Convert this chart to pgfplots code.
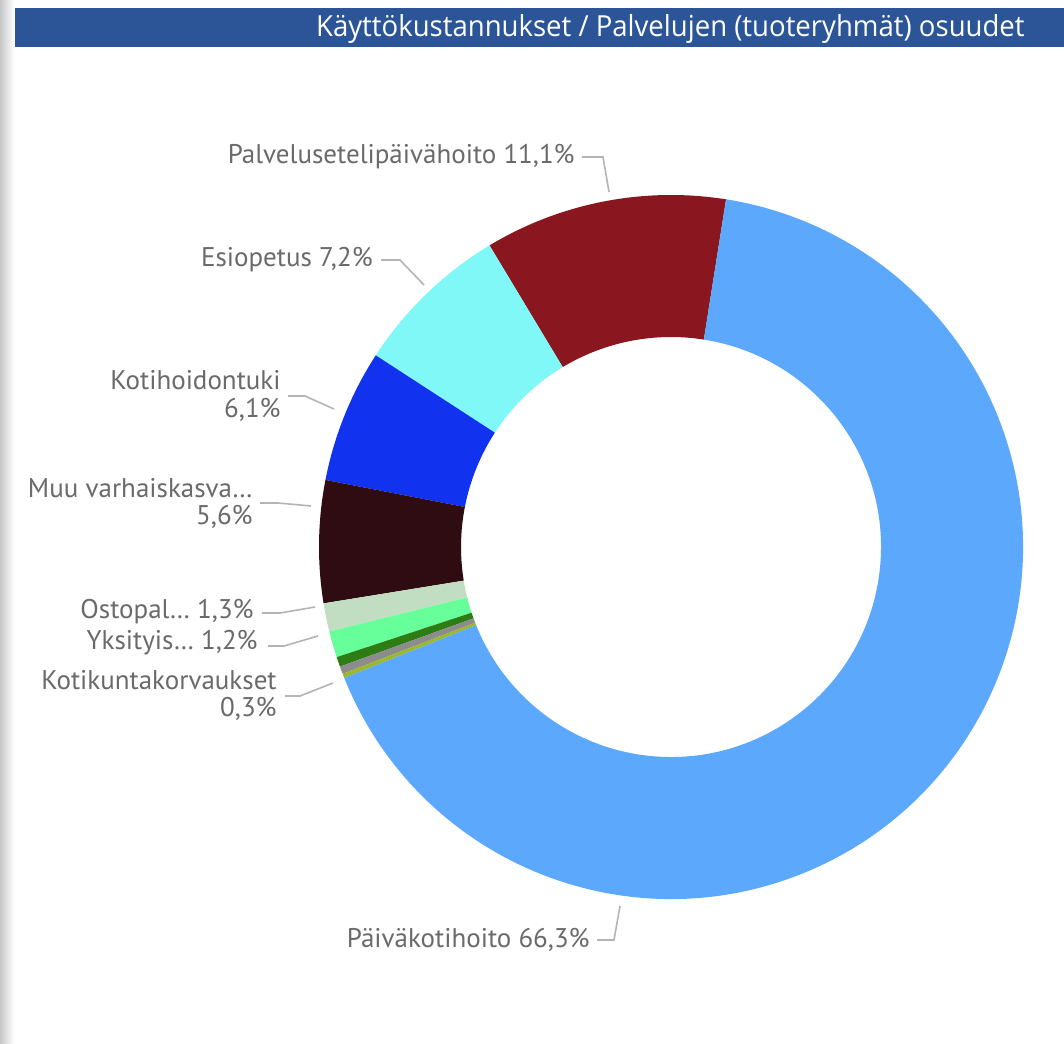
\documentclass[border=0pt]{standalone}
\usepackage{pgfplots}
\usepackage{pgfplotstable}
\pgfplotsset{compat=1.18}
\usepackage{fontspec}
\setmainfont{PT Sans}
\newfontfamily\titlefont[FakeStretch=0.95]{Open Sans}
\definecolor{cPaiv}{HTML}{5CA8FD}
\definecolor{cPalv}{HTML}{8A1620}
\definecolor{cEsi}{HTML}{80F8F8}
\definecolor{cKoti}{HTML}{1133F0}
\definecolor{cMuu}{HTML}{2E0C12}
\definecolor{cOsto}{HTML}{C2DEC2}
\definecolor{cYks}{HTML}{66FF99}
\definecolor{cDg}{HTML}{2E7D14}
\definecolor{cGray}{HTML}{8C8C8C}
\definecolor{cYg}{HTML}{9CB82C}
\definecolor{cTitle}{HTML}{2B5597}
\definecolor{cLab}{HTML}{6A6A6A}
\definecolor{cLead}{HTML}{B4B4B4}
% slices counterclockwise starting at 81 degrees
\pgfplotstableread{
name value color
Palvelusetelipaivahoito 11.1 cPalv
Esiopetus 7.2 cEsi
Kotihoidontuki 6.1 cKoti
Muu 5.6 cMuu
Ostopal 1.3 cOsto
Yksityis 1.2 cYks
Muu2 0.45 cDg
Kotikuntakorvaukset 0.35 cGray
Muu3 0.2 cYg
Paivakotihoito 66.3 cPaiv
}\slices
\begin{document}
\begin{tikzpicture}
\begin{axis}[
  x=0.5pt, y=0.5pt,
  xmin=0, xmax=1064, ymin=0, ymax=1043,
  y dir=reverse,
  hide axis, clip=false,
]
\fill[white] (axis cs:0,0) rectangle (axis cs:1064,1043);
\shade[left color=black!22, right color=white] (axis cs:0,0) rectangle (axis cs:14,1043);
\fill[cTitle] (axis cs:15,8) rectangle (axis cs:1064,47);
\node[anchor=east, inner sep=0, text=white, font=\titlefont\fontsize{14.5pt}{16pt}\selectfont] at (axis cs:1025,29) {Käyttökustannukset / Palvelujen (tuoteryhmät) osuudet};
\pgfplotstablegetrowsof{\slices}
\pgfmathtruncatemacro\nrows{\pgfplotsretval-1}
\def\total{0}
\pgfplotsforeachungrouped \i in {0,...,\nrows}{%
  \pgfplotstablegetelem{\i}{value}\of\slices
  \pgfmathsetmacro\total{\total+\pgfplotsretval}%
}
\def\acc{81}
\pgfplotsforeachungrouped \i in {0,...,\nrows}{%
  \pgfplotstablegetelem{\i}{value}\of\slices \let\v\pgfplotsretval
  \pgfplotstablegetelem{\i}{color}\of\slices \let\c\pgfplotsretval
  \pgfmathsetmacro\a{\acc}%
  \pgfmathsetmacro\b{\acc+\v/\total*360}%
  \pgfmathsetmacro\xs{671+352*cos(\a)}%
  \pgfmathsetmacro\ys{547-352*sin(\a)}%
  \pgfmathsetmacro\xe{671+210*cos(\b)}%
  \pgfmathsetmacro\ye{547-210*sin(\b)}%
  \edef\cmd{\noexpand\fill[\c] (axis cs:\xs,\ys) arc[start angle=\a,end angle=\b,radius=176pt] -- (axis cs:\xe,\ye) arc[start angle=\b,end angle=\a,radius=105pt] -- cycle;}%
  \cmd
  \global\let\acc\b
}
\begin{scope}[every node/.style={inner sep=0, text=cLab, font=\fontsize{13.5pt}{15pt}\selectfont}]
\node[anchor=east] at (axis cs:575,157) {Palvelusetelipäivähoito 11,1\%};
\node[anchor=east] at (axis cs:373,260) {Esiopetus 7,2\%};
\node[anchor=east] at (axis cs:281,380) {Kotihoidontuki};
\node[anchor=east] at (axis cs:281,410) {6,1\%};
\node[anchor=east] at (axis cs:253,488) {Muu varhaiskasva…};
\node[anchor=east] at (axis cs:253,517) {5,6\%};
\node[anchor=east] at (axis cs:254,612) {Ostopal… 1,3\%};
\node[anchor=east] at (axis cs:258,643) {Yksityis… 1,2\%};
\node[anchor=east] at (axis cs:277,680) {Kotikuntakorvaukset};
\node[anchor=east] at (axis cs:277,709) {0,3\%};
\node[anchor=east] at (axis cs:590,940) {Päiväkotihoito 66,3\%};
\end{scope}
\begin{scope}[cLead, line width=0.8pt]
\draw (axis cs:582,157) -- (axis cs:603,157) -- (axis cs:609,192);
\draw (axis cs:381,260) -- (axis cs:400,260) -- (axis cs:424,285);
\draw (axis cs:288,396) -- (axis cs:305,396) -- (axis cs:334,409);
\draw (axis cs:260,503) -- (axis cs:278,503) -- (axis cs:311,506);
\draw (axis cs:262,613) -- (axis cs:280,613) -- (axis cs:315,607);
\draw (axis cs:268,646) -- (axis cs:284,646) -- (axis cs:318,636);
\draw (axis cs:285,696) -- (axis cs:300,696) -- (axis cs:333,683);
\draw (axis cs:597,940) -- (axis cs:614,940) -- (axis cs:620,906);
\end{scope}
\end{axis}
\pgfresetboundingbox
\path[use as bounding box] (current axis.south west) rectangle (current axis.north east);
\end{tikzpicture}
\end{document}
